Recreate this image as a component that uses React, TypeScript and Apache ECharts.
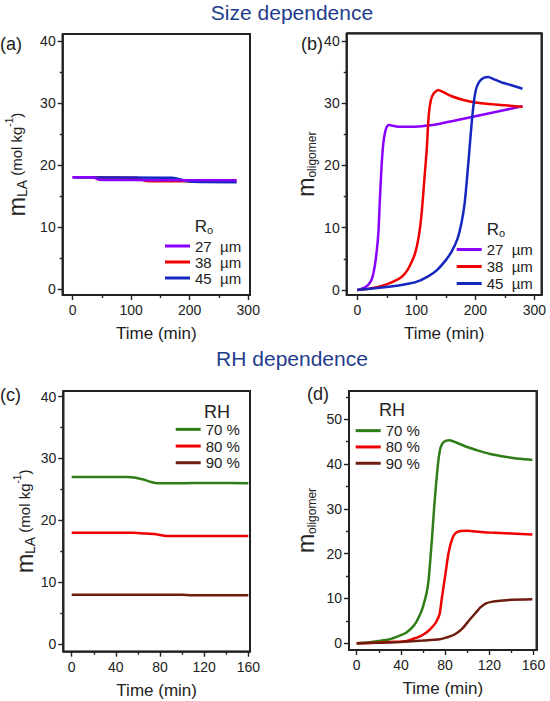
import { useEffect, useRef } from 'react';
import * as echarts from 'echarts';

// ---------- tick values ----------
const timeTicks300 = [0, 100, 200, 300];
const timeMinor300 = [50, 150, 250];
const timeTicks160 = [0, 40, 80, 120, 160];
const timeMinor160 = [20, 60, 100, 140];
const mTicks40 = [0, 10, 20, 30, 40];
const mMinor40 = [5, 15, 25, 35];
const mTicks50 = [0, 10, 20, 30, 40, 50];
const mMinor50 = [5, 15, 25, 35, 45, 55];

// ---------- legend names ----------
const sizeNames = ['27  µm', '38  µm', '45  µm'];
const rhNames = ['70 %', '80 %', '90 %'];

// ---------- (a) m_LA, size dependence ----------
const aR27 = [[0, 18], [35, 18], [45, 17.6], [100, 17.55], [200, 17.5], [280, 17.5]];
const aR38 = [[0, 18], [110, 17.9], [125, 17.4], [190, 17.35], [280, 17.4]];
const aR45 = [[0, 18], [40, 17.95], [170, 17.9], [200, 17.3], [280, 17.2]];

// ---------- (b) m_oligomer, size dependence ----------
const bR27 = [[0, 0], [10, 0.3], [18, 0.8], [24, 1.6], [28, 3], [32, 5.5], [35.6, 9], [38, 14], [41, 19.7], [44, 23.5], [47, 25.3], [50, 26.2], [53, 26.5], [58, 26.4], [70, 26.2], [90, 26.2], [110, 26.3], [120, 26.4], [140, 26.7], [160, 27.1], [180, 27.5], [200, 27.9], [220, 28.3], [240, 28.7], [260, 29.1], [280, 29.5]];
const bR38 = [[0, 0], [20, 0.2], [40, 0.6], [60, 1.3], [75, 2.1], [85, 3.2], [92, 4.5], [98, 5.9], [104, 8.5], [109, 12.3], [113, 17], [117.6, 22.5], [121, 28], [125, 30.6], [130, 31.6], [137, 32.1], [145, 31.8], [160, 31.1], [180, 30.5], [200, 30.1], [230, 29.8], [255, 29.6], [280, 29.4]];
const bR45 = [[0, 0], [30, 0.3], [60, 0.6], [80, 0.9], [100, 1.3], [120, 2.2], [135, 3.2], [150, 4.8], [160, 6.2], [170, 8.3], [177, 11], [182, 14], [186, 18], [190, 22.5], [194, 27], [198, 30.5], [202, 32.5], [208, 33.6], [215, 34.1], [222, 34.2], [230, 33.9], [245, 33.3], [260, 32.9], [280, 32.3]];

// ---------- (c) m_LA, RH dependence ----------
const cRH70 = [[0, 27], [50, 27], [58, 26.9], [65, 26.6], [72, 26.2], [78, 26], [100, 26], [125, 26.05], [160, 26]];
const cRH80 = [[0, 18], [55, 18], [65, 17.9], [75, 17.8], [85, 17.5], [120, 17.5], [160, 17.5]];
const cRH90 = [[0, 8], [100, 8], [108, 7.9], [160, 7.9]];

// ---------- (d) m_oligomer, RH dependence ----------
const dRH70 = [[0, 0], [10, 0.2], [20, 0.5], [30, 0.9], [40, 1.8], [45, 2.4], [50, 3.5], [54, 4.8], [58, 6.8], [60, 8.2], [63, 11], [65, 14], [68, 23], [70, 30], [72, 36], [74, 41], [76, 43.8], [79, 45], [84, 45.3], [90, 44.8], [100, 43.8], [110, 43], [120, 42.3], [130, 41.8], [140, 41.4], [150, 41.1], [159, 40.9]];
const dRH80 = [[0, 0], [20, 0.15], [40, 0.4], [45, 0.5], [50, 0.9], [55, 1.3], [60, 1.9], [65, 2.8], [69, 3.8], [72, 4.8], [75, 6.5], [77, 10], [80, 15], [83, 20], [86, 23], [89, 24.5], [93, 25], [100, 25.1], [110, 24.9], [120, 24.7], [140, 24.5], [159, 24.3]];
const dRH90 = [[0, 0], [20, 0.1], [40, 0.3], [60, 0.6], [75, 0.9], [85, 1.6], [90, 2.2], [96, 3.4], [102, 5.2], [107, 6.6], [112, 8], [117, 8.9], [123, 9.3], [130, 9.5], [140, 9.7], [159, 9.8]];

const FONT = 'Liberation Sans, Arial, Helvetica, sans-serif';
const AX = '#222222';
const TXT = '#222222';
const NAVY = '#1f3c8c';
const PURPLE = '#8a00ff';
const RED = '#f00000';
const BLUE = '#1428c0';
const GREEN = '#2f7d16';
const BROWN = '#6f1d0e';

const mlaName = '{m|m}{s|LA}{t| (mol kg}{p|-1}{t|)}';
const molName = '{m|m}{o|oligomer}';
const nameRich = {
  m: { fontSize: 23, lineHeight: 24, fontFamily: FONT, color: TXT },
  s: { fontSize: 14, lineHeight: 13, verticalAlign: 'bottom', fontFamily: FONT, color: TXT },
  o: { fontSize: 12, lineHeight: 12, verticalAlign: 'bottom', fontFamily: FONT, color: TXT },
  t: { fontSize: 15, lineHeight: 24, fontFamily: FONT, color: TXT },
  p: { fontSize: 10, lineHeight: 13, verticalAlign: 'top', fontFamily: FONT, color: TXT },
};

const panels = [
  { rect: { left: 62.7, top: 34, width: 187.3, height: 261 }, x: [-17, 303], y: [-1.0, 41.1], xt: timeTicks300, xm: timeMinor300, yt: mTicks40, ym: mMinor40, yName: mlaName, gapY: 34,
    series: [{ name: sizeNames[1], data: aR38, color: RED }, { name: sizeNames[2], data: aR45, color: BLUE }, { name: sizeNames[0], data: aR27, color: PURPLE }] },
  { rect: { left: 346.7, top: 33.3, width: 195, height: 261.7 }, x: [-18, 312.5], y: [-0.8, 41.2], xt: timeTicks300, xm: timeMinor300, yt: mTicks40, ym: mMinor40, yName: molName, gapY: 29,
    series: [{ name: sizeNames[0], data: bR27, color: PURPLE }, { name: sizeNames[1], data: bR38, color: RED }, { name: sizeNames[2], data: bR45, color: BLUE }] },
  { rect: { left: 63.3, top: 391, width: 186.7, height: 260.7 }, x: [-7.6, 161.5], y: [-1.2, 40.9], xt: timeTicks160, xm: timeMinor160, yt: mTicks40, ym: mMinor40, yName: mlaName, gapY: 21,
    series: [{ name: rhNames[0], data: cRH70, color: GREEN }, { name: rhNames[1], data: cRH80, color: RED }, { name: rhNames[2], data: cRH90, color: BROWN }] },
  { rect: { left: 349, top: 391, width: 187.7, height: 259 }, x: [-7, 162.9], y: [-1.5, 56.3], xt: timeTicks160, xm: timeMinor160, yt: mTicks50, ym: mMinor50, yName: molName, gapY: 31,
    series: [{ name: rhNames[0], data: dRH70, color: GREEN }, { name: rhNames[1], data: dRH80, color: RED }, { name: rhNames[2], data: dRH90, color: BROWN }] },
];

function buildOption() {
  const grid: any[] = [];
  const xAxis: any[] = [];
  const yAxis: any[] = [];
  const series: any[] = [];
  const boxes: any[] = [];
  panels.forEach((p, i) => {
    grid.push({ left: p.rect.left, top: p.rect.top, width: p.rect.width, height: p.rect.height, show: true, borderColor: AX, borderWidth: 1.8, backgroundColor: 'rgba(0,0,0,0)' });
    grid.push({ left: p.rect.left, top: p.rect.top, width: p.rect.width, height: p.rect.height, show: false });
    boxes.push({
      type: 'polyline', silent: true, z: 100,
      shape: {
        points: [
          [p.rect.left, p.rect.top], [p.rect.left + p.rect.width, p.rect.top],
          [p.rect.left + p.rect.width, p.rect.top + p.rect.height], [p.rect.left, p.rect.top + p.rect.height],
          [p.rect.left, p.rect.top],
        ],
      },
      style: { stroke: AX, lineWidth: 1.8, fill: null },
    });
    const tickStyle = { color: AX, width: 1.4 };
    xAxis.push({
      type: 'value', gridIndex: 2 * i, min: p.x[0], max: p.x[1], position: 'bottom',
      axisLine: { show: false, onZero: false }, splitLine: { show: false },
      axisTick: { show: true, inside: false, length: 5, customValues: p.xt, lineStyle: tickStyle },
      axisLabel: { show: true, customValues: p.xt, margin: 8, fontSize: 14, color: TXT, fontFamily: FONT },
      name: 'Time (min)', nameLocation: 'middle', nameGap: 30,
      nameTextStyle: { fontSize: 17, color: TXT, fontFamily: FONT },
    });
    xAxis.push({
      type: 'value', gridIndex: 2 * i + 1, min: p.x[0], max: p.x[1], position: 'bottom',
      axisLine: { show: false, onZero: false }, splitLine: { show: false }, axisLabel: { show: false },
      axisTick: { show: true, inside: false, length: 3, customValues: p.xm, lineStyle: tickStyle },
    });
    yAxis.push({
      type: 'value', gridIndex: 2 * i, min: p.y[0], max: p.y[1], position: 'left',
      axisLine: { show: false, onZero: false }, splitLine: { show: false },
      axisTick: { show: true, inside: false, length: 5, customValues: p.yt, lineStyle: tickStyle },
      axisLabel: { show: true, customValues: p.yt, margin: 7, fontSize: 14, color: TXT, fontFamily: FONT },
      name: p.yName, nameLocation: 'middle', nameGap: p.gapY,
      nameTextStyle: { rich: nameRich },
    });
    yAxis.push({
      type: 'value', gridIndex: 2 * i + 1, min: p.y[0], max: p.y[1], position: 'left',
      axisLine: { show: false, onZero: false }, splitLine: { show: false }, axisLabel: { show: false },
      axisTick: { show: true, inside: false, length: 3, customValues: p.ym, lineStyle: tickStyle },
    });
    const [x0, x1] = p.x;
    const [y0, y1] = p.y;
    series.push({
      type: 'line', xAxisIndex: 2 * i, yAxisIndex: 2 * i, silent: true, clip: false, z: 10,
      data: [[x0, y0], [x1, y0], [x1, y1], [x0, y1], [x0, y0]],
      symbol: 'none', showSymbol: false, smooth: false,
      lineStyle: { width: 1.8, color: AX }, itemStyle: { color: AX },
    });
    p.series.forEach((s) => {
      series.push({
        type: 'line', name: s.name, xAxisIndex: 2 * i, yAxisIndex: 2 * i, data: s.data,
        symbol: 'none', showSymbol: false, smooth: 0.2,
        lineStyle: { width: 2.5, color: s.color }, itemStyle: { color: s.color },
      });
    });
  });

  const legendBase = {
    orient: 'vertical', itemWidth: 25, itemHeight: 3, itemGap: 0, icon: 'rect',
    selectedMode: false, padding: 0,
    textStyle: { fontSize: 15, lineHeight: 16, color: TXT, fontFamily: FONT },
  };
  const legend = [
    { ...legendBase, data: sizeNames, left: 165, top: 238 },
    { ...legendBase, data: sizeNames, left: 456.7, top: 241, textStyle: { ...legendBase.textStyle, lineHeight: 17 } },
    { ...legendBase, data: rhNames, left: 175.7, top: 421, textStyle: { ...legendBase.textStyle, lineHeight: 16.7 } },
    { ...legendBase, data: rhNames, left: 355.7, top: 422.5, textStyle: { ...legendBase.textStyle, lineHeight: 16.3 } },
  ];

  const txt = (text: string, x: number, y: number, size: number, fill: string, align = 'center') => ({
    type: 'text', x, y, silent: true,
    style: { text, fontSize: size, fontFamily: FONT, fill, align, verticalAlign: 'middle' },
  });
  const roRich = {
    r: { fontSize: 17, lineHeight: 18, fontFamily: FONT, fill: TXT, color: TXT },
    o: { fontSize: 11, lineHeight: 10, verticalAlign: 'bottom', fontFamily: FONT, fill: TXT, color: TXT },
  };
  const roText = (x: number, y: number) => ({
    type: 'text', x, y, silent: true,
    style: { text: '{r|R}{o|o}', rich: roRich, align: 'center', verticalAlign: 'middle', fill: TXT },
  });

  const graphic = [
    ...boxes,
    txt('Size dependence', 292, 12, 21, NAVY),
    txt('RH dependence', 292, 358, 21, NAVY),
    txt('(a)', 0, 43.5, 18, TXT, 'left'),
    txt('(b)', 301, 44, 18, TXT, 'left'),
    txt('(c)', 0, 395, 18, TXT, 'left'),
    txt('(d)', 307, 394, 18, TXT, 'left'),
    roText(204, 226),
    roText(496, 229),
    txt('RH', 217, 412, 18, TXT),
    txt('RH', 392, 410, 18, TXT),
  ];

  return {
    animation: false,
    grid, xAxis, yAxis, series, legend, graphic,
  };
}

export default function App() {
  const ref = useRef<HTMLDivElement>(null);
  useEffect(() => {
    if (!ref.current) return;
    const chart = echarts.init(ref.current, null, { renderer: 'svg' });
    chart.setOption(buildOption() as any);
    return () => chart.dispose();
  }, []);
  return <div ref={ref} style={{ position: 'absolute', left: 0, top: 0, width: 550, height: 701, background: '#fff' }} />;
}
